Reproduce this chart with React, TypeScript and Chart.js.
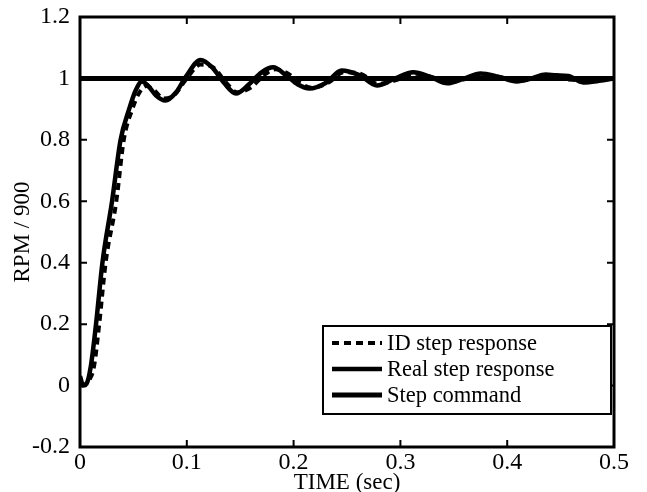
import React, { useEffect, useRef } from "react";
import { Chart, registerables } from "chart.js";

Chart.register(...registerables);

// ---- data ----
const realTime = [0, 0.003, 0.006, 0.010, 0.015, 0.021, 0.030, 0.038, 0.046, 0.052, 0.058, 0.064, 0.071, 0.080, 0.090, 0.099, 0.113, 0.124, 0.135, 0.146, 0.158, 0.170, 0.181, 0.193, 0.204, 0.215, 0.230, 0.245, 0.262, 0.278, 0.295, 0.312, 0.328, 0.344, 0.360, 0.375, 0.392, 0.409, 0.423, 0.436, 0.446, 0.457, 0.471, 0.486, 0.500];
const realRpm = [0.03, 0.0, 0.005, 0.06, 0.2, 0.4, 0.6, 0.8, 0.9, 0.96, 0.99, 0.975, 0.945, 0.928, 0.955, 1.005, 1.06, 1.035, 0.985, 0.951, 0.98, 1.02, 1.036, 1.01, 0.98, 0.967, 0.985, 1.026, 1.01, 0.977, 1.0, 1.02, 1.005, 0.984, 1.0, 1.016, 1.005, 0.99, 1.0, 1.013, 1.01, 1.008, 0.987, 0.992, 1.0];

const idTime = [0, 0.005, 0.009, 0.013, 0.018, 0.024, 0.034, 0.041, 0.049, 0.055, 0.062, 0.070, 0.078, 0.088, 0.100, 0.113, 0.125, 0.136, 0.147, 0.160, 0.172, 0.183, 0.195, 0.206, 0.217, 0.232, 0.247, 0.263, 0.279, 0.296, 0.313, 0.329, 0.345, 0.361, 0.376, 0.393, 0.410, 0.424, 0.437, 0.450, 0.465, 0.480, 0.500];
const idRpm = [0.0, 0.005, 0.02, 0.06, 0.2, 0.4, 0.6, 0.8, 0.9, 0.95, 0.975, 0.96, 0.935, 0.945, 1.0, 1.045, 1.035, 0.99, 0.955, 0.97, 1.01, 1.03, 1.015, 0.985, 0.97, 0.985, 1.02, 1.015, 0.982, 0.995, 1.015, 1.005, 0.988, 0.998, 1.012, 1.005, 0.993, 0.998, 1.008, 1.0, 0.995, 0.996, 1.0];

const stepTime = [0, 0.5];
const stepRpm = [1, 1];

const xTickValues = [0, 0.1, 0.2, 0.3, 0.4, 0.5];
const xTickLabels = ["0", "0.1", "0.2", "0.3", "0.4", "0.5"];
const yTickValues = [-0.2, 0, 0.2, 0.4, 0.6, 0.8, 1, 1.2];
const yTickLabels = ["-0.2", "0", "0.2", "0.4", "0.6", "0.8", "1", "1.2"];

const seriesLabels = ["ID step response", "Real step response", "Step command"];

const FONT = "'Liberation Serif', 'Times New Roman', serif";

const framePlugin = {
  id: "matlabFrame",
  afterDraw(chart: any) {
    const { ctx, chartArea: a, scales } = chart;
    const xs = scales.x;
    const ys = scales.y;
    ctx.save();
    ctx.strokeStyle = "#000";
    // inward ticks
    ctx.lineWidth = 2;
    const tl = 7;
    ctx.beginPath();
    xTickValues.forEach((v) => {
      const px = xs.getPixelForValue(v);
      ctx.moveTo(px, a.bottom);
      ctx.lineTo(px, a.bottom - tl);
      ctx.moveTo(px, a.top);
      ctx.lineTo(px, a.top + tl);
    });
    yTickValues.forEach((v) => {
      const py = ys.getPixelForValue(v);
      ctx.moveTo(a.left, py);
      ctx.lineTo(a.left + tl, py);
      ctx.moveTo(a.right, py);
      ctx.lineTo(a.right - tl, py);
    });
    ctx.stroke();
    // frame
    ctx.lineWidth = 3;
    ctx.strokeRect(a.left, a.top, a.right - a.left, a.bottom - a.top);

    // legend box
    const bx = 323, by = 326, bw = 288, bh = 88;
    ctx.fillStyle = "#fff";
    ctx.fillRect(bx, by, bw, bh);
    ctx.lineWidth = 2;
    ctx.strokeRect(bx, by, bw, bh);
    const rows = [343, 369, 395];
    const dsets = chart.data.datasets;
    ctx.font = `22.5px ${FONT}`;
    ctx.textBaseline = "middle";
    ctx.textAlign = "left";
    rows.forEach((ry, i) => {
      const ds = dsets[i];
      ctx.beginPath();
      ctx.lineWidth = ds.borderWidth;
      ctx.setLineDash(ds.borderDash || []);
      ctx.moveTo(332, ry);
      ctx.lineTo(382, ry);
      ctx.stroke();
      ctx.setLineDash([]);
      ctx.fillStyle = "#000";
      ctx.fillText(ds.label, 387, ry + 1);
    });
    ctx.restore();
  },
};

export default function App() {
  const ref = useRef<HTMLCanvasElement | null>(null);

  useEffect(() => {
    if (!ref.current) return;
    const toPts = (xs: number[], ys: number[]) => xs.map((x, i) => ({ x, y: ys[i] }));
    const chart = new Chart(ref.current, {
      type: "line",
      data: {
        datasets: [
          {
            label: seriesLabels[0],
            data: toPts(idTime, idRpm),
            borderColor: "#000",
            borderWidth: 4,
            borderDash: [7, 5],
            pointRadius: 0,
            cubicInterpolationMode: "monotone",
            order: 3,
          },
          {
            label: seriesLabels[1],
            data: toPts(realTime, realRpm),
            borderColor: "#000",
            borderWidth: 4.5,
            pointRadius: 0,
            cubicInterpolationMode: "monotone",
            order: 2,
          },
          {
            label: seriesLabels[2],
            data: toPts(stepTime, stepRpm),
            borderColor: "#000",
            borderWidth: 5,
            pointRadius: 0,
            order: 1,
          },
        ],
      },
      options: {
        responsive: false,
        animation: false,
        events: [],
        layout: { padding: { left: 0, top: 17, right: 33, bottom: 0 } },
        plugins: { legend: { display: false }, tooltip: { enabled: false } },
        scales: {
          x: {
            type: "linear",
            min: 0,
            max: 0.5,
            grid: { display: false, drawTicks: false },
            border: { display: false },
            afterFit: (s: any) => {
              s.height = 45;
              s.paddingLeft = 0;
              s.paddingRight = 0;
            },
            afterBuildTicks: (s: any) => {
              s.ticks = xTickValues.map((v) => ({ value: v }));
            },
            ticks: {
              padding: 1,
              color: "#000",
              maxRotation: 0,
              autoSkip: false,
              font: { family: FONT, size: 24 },
              callback: (v: any) => {
                const i = xTickValues.findIndex((t) => Math.abs(t - v) < 1e-9);
                return i >= 0 ? xTickLabels[i] : "";
              },
            },
            title: {
              display: true,
              text: "TIME (sec)",
              color: "#000",
              padding: { top: 0, bottom: 0 },
              font: { family: FONT, size: 23, lineHeight: 0.8 },
            },
          },
          y: {
            type: "linear",
            min: -0.2,
            max: 1.2,
            grid: { display: false, drawTicks: false },
            border: { display: false },
            afterFit: (s: any) => {
              s.width = 80;
              s.paddingTop = 0;
              s.paddingBottom = 0;
            },
            afterBuildTicks: (s: any) => {
              s.ticks = yTickValues.map((v) => ({ value: v }));
            },
            ticks: {
              padding: 10,
              color: "#000",
              autoSkip: false,
              font: { family: FONT, size: 24 },
              callback: (v: any) => {
                const i = yTickValues.findIndex((t) => Math.abs(t - v) < 1e-9);
                return i >= 0 ? yTickLabels[i] : "";
              },
            },
            title: {
              display: true,
              text: "RPM / 900",
              color: "#000",
              padding: { top: 9, bottom: 0 },
              font: { family: FONT, size: 23 },
            },
          },
        },
      },
      plugins: [framePlugin],
    } as any);
    return () => chart.destroy();
  }, []);

  return (
    <div style={{ position: "absolute", left: 0, top: 0, width: 647, height: 492, background: "#fff" }}>
      <canvas ref={ref} width={647} height={492} />
    </div>
  );
}
